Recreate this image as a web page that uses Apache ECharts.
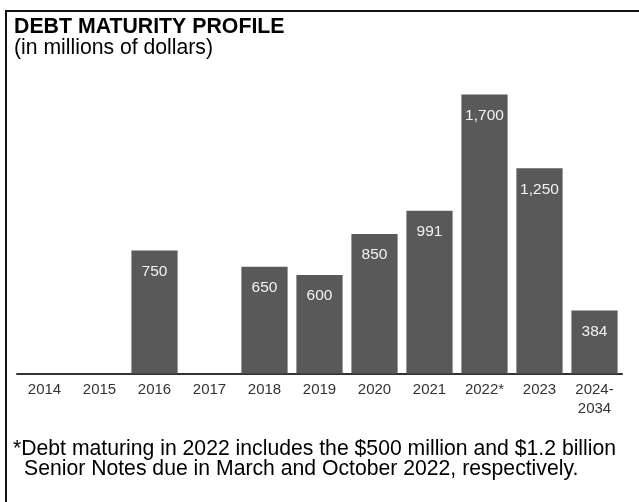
<!DOCTYPE html>
<html>
<head>
<meta charset="utf-8">
<style>
  html, body { margin: 0; padding: 0; background: #ffffff; }
  #chart { width: 639px; height: 502px; }
</style>
<script src="https://cdn.jsdelivr.net/npm/echarts@6/dist/echarts.min.js"></script>
</head>
<body>
<div id="chart"></div>
<script>
// Maturity years and principal amounts due (millions of dollars)
const years = ['2014', '2015', '2016', '2017', '2018', '2019', '2020', '2021', '2022*', '2023', '2024-\n2034'];
const amounts = [0, 0, 750, 0, 650, 600, 850, 991, 1700, 1250, 384];

const titleText = 'DEBT MATURITY PROFILE';
const subtitleText = '(in millions of dollars)';
const noteLine1 = '*Debt maturing in 2022 includes the $500 million and $1.2 billion';
const noteLine2 = 'Senior Notes due in March and October 2022, respectively.';

const FONT = '"Liberation Sans", Arial, sans-serif';

const chart = echarts.init(document.getElementById('chart'), null, { renderer: 'canvas' });

chart.setOption({
  animation: false,
  backgroundColor: '#ffffff',
  grid: { left: 17, right: 17, top: 94.5, bottom: 128.5, containLabel: false },
  xAxis: {
    type: 'category',
    data: years,
    axisLine: { show: true, lineStyle: { color: '#333333', width: 2 } },
    axisTick: { show: false },
    axisLabel: {
      color: '#333333',
      fontFamily: FONT,
      fontSize: 15,
      lineHeight: 19,
      margin: 7,
      interval: 0,
      verticalAlign: 'top'
    }
  },
  yAxis: {
    type: 'value',
    min: 0,
    max: 1700,
    show: false,
    splitLine: { show: false }
  },
  series: [{
    type: 'bar',
    data: amounts.map(v => (v > 0 ? v : null)),
    barCategoryGap: '16%',
    itemStyle: { color: '#595959' },
    label: {
      show: true,
      position: 'insideTop',
      distance: 13,
      color: '#f2f2f2',
      fontFamily: FONT,
      fontSize: 15.5,
      formatter: p => p.value.toLocaleString('en-US')
    }
  }],
  graphic: [
    // frame: top rule and left rule
    { type: 'line', shape: { x1: 5, y1: 11, x2: 639, y2: 11 }, style: { stroke: '#111111', lineWidth: 2 } },
    { type: 'line', shape: { x1: 6, y1: 10, x2: 6, y2: 502 }, style: { stroke: '#111111', lineWidth: 2 } },
    { type: 'text', left: 14, top: 17, style: { text: titleText, font: 'bold 21.3px ' + FONT, fill: '#000000' } },
    { type: 'text', left: 14, top: 38, style: { text: subtitleText, font: '21.2px ' + FONT, fill: '#000000' } },
    { type: 'text', left: 13, top: 439, style: { text: noteLine1, font: '21.2px ' + FONT, fill: '#000000' } },
    { type: 'text', left: 24, top: 459, style: { text: noteLine2, font: '21.2px ' + FONT, fill: '#000000' } }
  ]
});
</script>
</body>
</html>
